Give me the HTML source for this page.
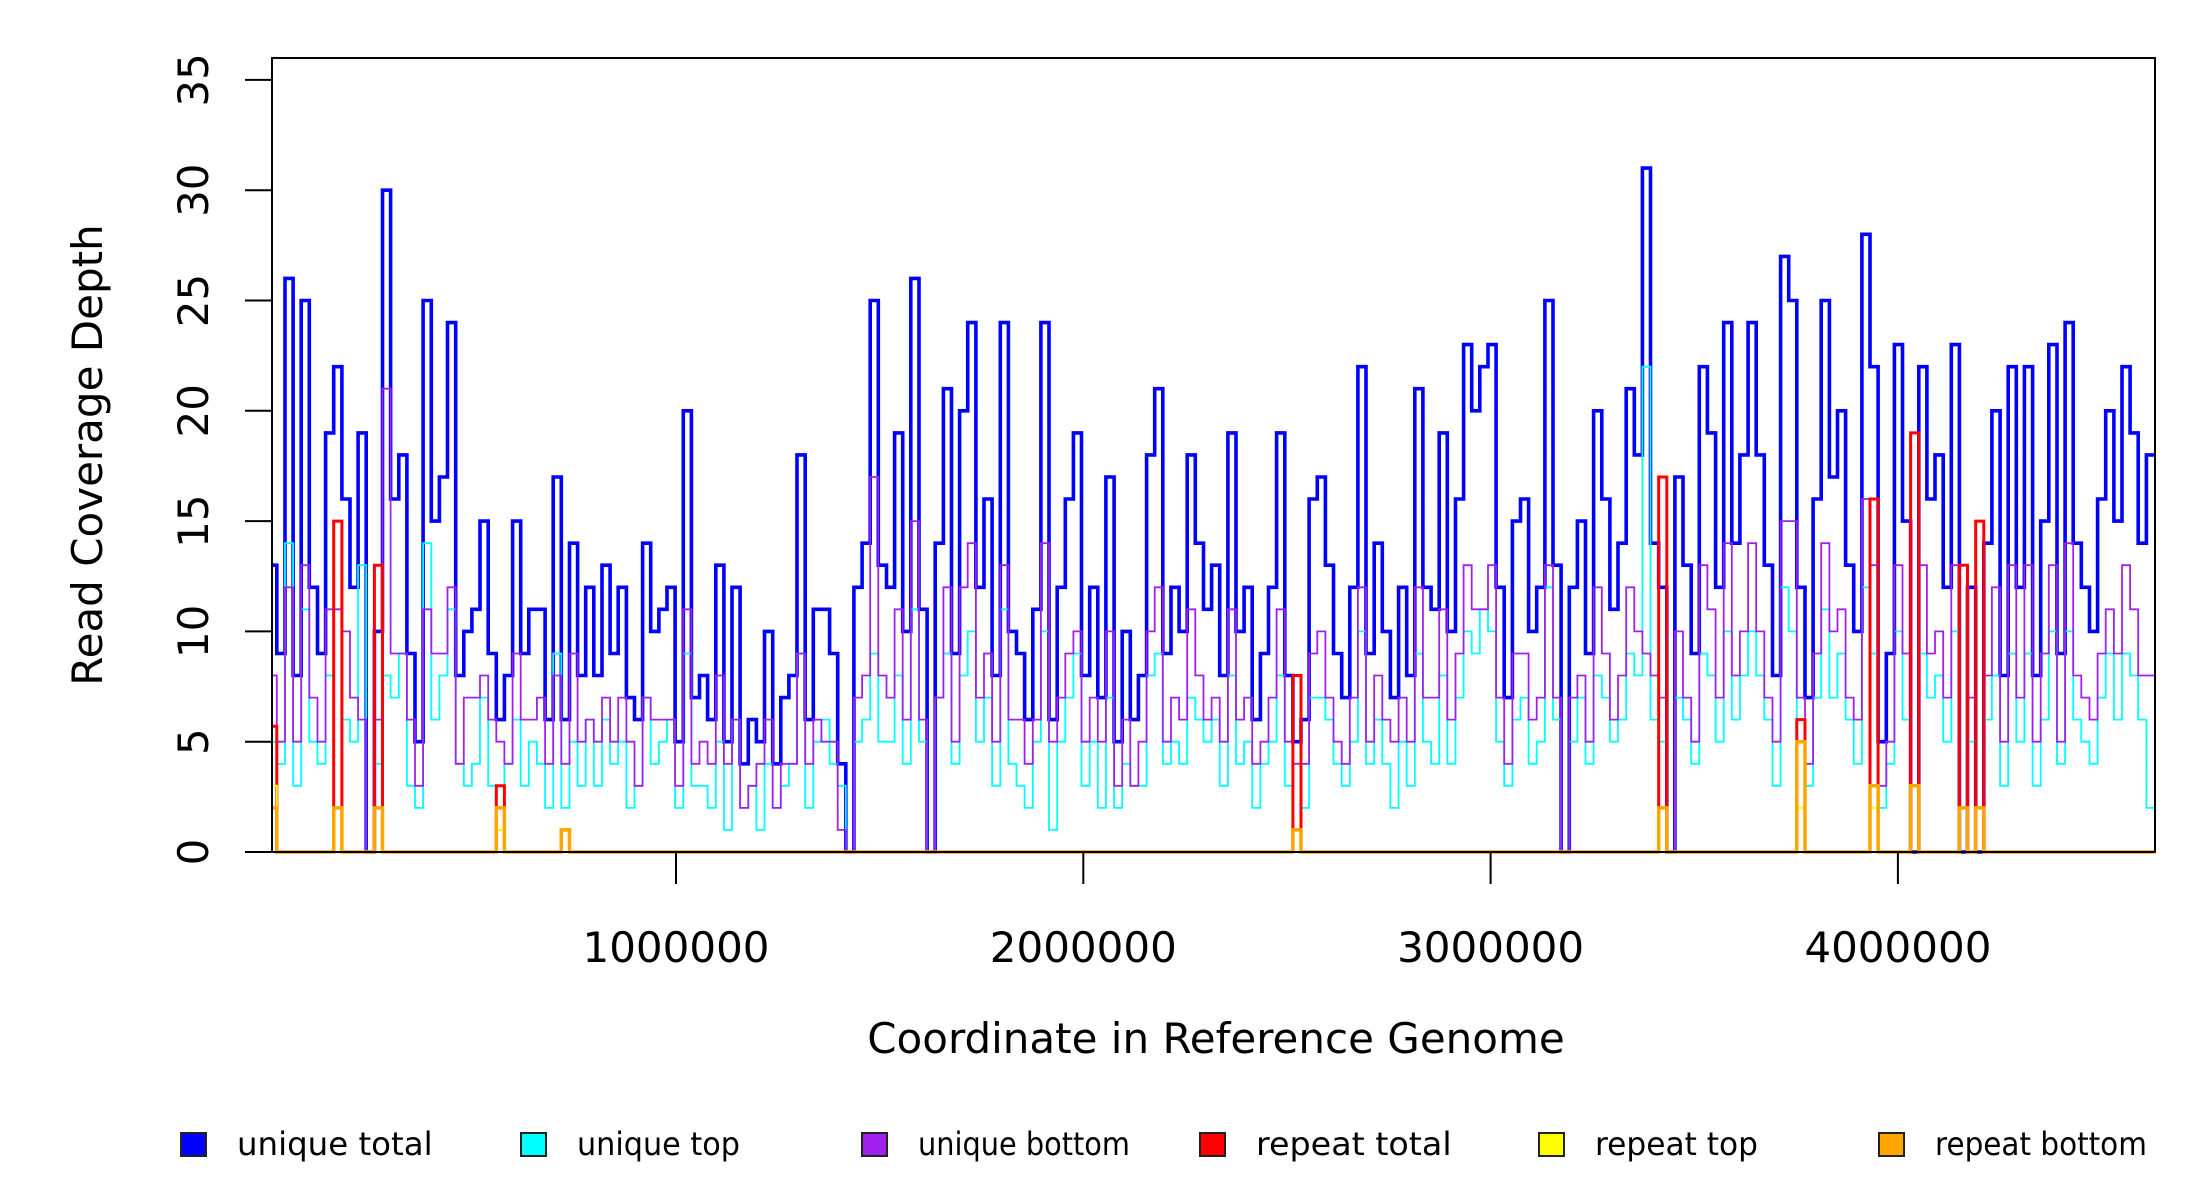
<!DOCTYPE html>
<html><head><meta charset="utf-8"><style>
html,body{margin:0;padding:0;background:#fff;}
svg{display:block;font-family:"DejaVu Sans","Liberation Sans",sans-serif;}
</style></head><body>
<svg id="chart" width="2200" height="1200" viewBox="0 0 2200 1200" xmlns="http://www.w3.org/2000/svg">
<rect x="0" y="0" width="2200" height="1200" fill="#fff"/>
<g id="series"></g>
<rect x="272" y="58" width="1883" height="794" fill="none" stroke="#000" stroke-width="2"/>
<g id="yaxis"></g>
<g id="xaxis"></g>
<text x="1216" y="1053" font-size="42" text-anchor="middle">Coordinate in Reference Genome</text>
<text transform="translate(102,455) rotate(-90)" font-size="42" text-anchor="middle">Read Coverage Depth</text>
<g id="legend"></g>
</svg>
<script>
const binSize = 20000;
const uniqueTotal = [13,9,26,8,25,12,9,19,22,16,12,19,0,10,30,16,18,9,5,25,15,17,24,8,10,11,15,9,6,8,15,9,11,11,6,17,6,14,8,12,8,13,9,12,7,6,14,10,11,12,5,20,7,8,6,13,5,12,4,6,5,10,4,7,8,18,6,11,11,9,4,0,12,14,25,13,12,19,10,26,11,0,14,21,9,20,24,12,16,8,24,10,9,6,11,24,6,12,16,19,8,12,7,17,5,10,6,8,18,21,9,12,10,18,14,11,13,8,19,10,12,6,9,12,19,8,5,6,16,17,13,9,7,12,22,9,14,10,7,12,8,21,12,11,19,10,16,23,20,22,23,12,7,15,16,10,12,25,13,0,12,15,9,20,16,11,14,21,18,31,14,12,0,17,13,9,22,19,12,24,14,18,24,18,13,8,27,25,12,7,16,25,17,20,13,10,28,22,5,9,23,15,0,22,16,18,12,23,0,12,0,14,20,8,22,12,22,8,15,23,9,24,14,12,10,16,20,15,22,19,14,18];
const uniqueTop = [5,4,14,3,11,5,4,8,11,6,5,13,0,4,8,7,9,3,2,14,6,8,11,4,3,4,7,3,1,4,6,3,5,4,2,9,2,5,3,6,3,6,4,5,2,3,7,4,5,6,2,9,3,3,2,5,1,6,2,3,1,4,2,3,4,9,2,5,6,4,3,0,5,6,9,5,5,8,4,11,5,0,7,9,4,8,10,5,7,3,11,4,3,2,5,10,1,5,7,9,3,5,2,7,2,4,3,3,8,9,4,5,4,7,6,5,6,3,8,4,5,2,4,5,8,3,1,2,7,7,6,4,3,5,10,4,6,4,2,5,3,9,5,4,8,4,7,10,9,11,10,5,3,6,7,4,5,12,6,0,5,7,4,8,7,5,6,9,8,22,6,5,0,7,6,4,9,8,5,10,6,8,10,8,6,3,12,10,5,3,7,11,7,9,6,4,12,9,2,4,10,6,0,9,7,8,5,10,0,5,0,6,8,3,9,5,9,3,6,10,4,10,6,5,4,7,9,6,9,8,6,2];
const uniqueBottom = [8,5,12,5,13,7,5,11,11,10,7,6,0,6,21,9,9,6,3,11,9,9,12,4,7,7,8,6,5,4,9,6,6,7,4,8,4,9,5,6,5,7,5,7,5,3,7,6,6,6,3,11,4,5,4,8,4,6,2,3,4,6,2,4,4,9,4,6,5,5,1,0,7,8,17,8,7,11,6,15,6,0,7,12,5,12,14,7,9,5,13,6,6,4,6,14,5,7,9,10,5,7,5,10,3,6,3,5,10,12,5,7,6,11,8,6,7,5,11,6,7,4,5,7,11,5,4,4,9,10,7,5,4,7,12,5,8,6,5,7,5,12,7,7,11,6,9,13,11,11,13,7,4,9,9,6,7,13,7,0,7,8,5,12,9,6,8,12,10,9,8,7,0,10,7,5,13,11,7,14,8,10,14,10,7,5,15,15,7,4,9,14,10,11,7,6,16,13,3,5,13,9,0,13,9,10,7,13,0,7,0,8,12,5,13,7,13,5,9,13,5,14,8,7,6,9,11,9,13,11,8,8];
const repeatBins = [0,8,13,28,36,126,171,188,197,202,208,210];
const repeatTotal = [5.7,15,13,3,1,8,17,6,16,19,13,15];
const repeatTop = [3,2,2,1,0,1,2,2,2,3,2,2];
const repeatBottom = [2,2,2,2,1,1,2,5,3,3,2,2];
const yTicks = [0,5,10,15,20,25,30,35];
const xTicks = [1000000,2000000,3000000,4000000];
const seriesNames = ["unique total","unique top","unique bottom","repeat total","repeat top","repeat bottom"];
const seriesColors = ["#0000ff","#00ffff","#a020f0","#ff0000","#ffff00","#ffa500"];

const NS = "http://www.w3.org/2000/svg";
const X0 = 268.7, XPER = 407.3/1000000, Y0 = 852, YPER = 22.06;
const nBins = uniqueTotal.length;
const xMax = 4630000;
function sx(v){ return X0 + v * XPER; }
function sy(v){ return Y0 - v * YPER; }
function mk(tag, attrs, parent){ const e = document.createElementNS(NS, tag); for (const k in attrs) e.setAttribute(k, attrs[k]); parent.appendChild(e); return e; }

function stepPath(vals){
  let d = "";
  const bw = xMax / vals.length;
  for (let i = 0; i < vals.length; i++){
    const xa = sx(i*bw), xb = sx((i+1)*bw), y = sy(vals[i]);
    d += (i === 0 ? "M" : "L") + xa.toFixed(1) + "," + y.toFixed(1) + "L" + xb.toFixed(1) + "," + y.toFixed(1);
  }
  return d;
}
function sparse(bins, vals){
  const a = new Array(nBins).fill(0);
  bins.forEach((b, j) => { a[b] = vals[j]; });
  return a;
}
const g = document.getElementById("series");
const clip = mk("clipPath", {id:"pc"}, g);
mk("rect", {x:272, y:58, width:1883, height:796}, clip);
const defs = [
  [uniqueTotal, seriesColors[0], 3.6, "unique-total-line"],
  [uniqueTop, seriesColors[1], 1.8, "unique-top-line"],
  [uniqueBottom, seriesColors[2], 1.8, "unique-bottom-line"],
  [sparse(repeatBins, repeatTotal), seriesColors[3], 3, "repeat-total-line"],
  [sparse(repeatBins, repeatTop), seriesColors[4], 2, "repeat-top-line"],
  [sparse(repeatBins, repeatBottom), seriesColors[5], 3.5, "repeat-bottom-line"]
];
defs.forEach(s => {
  const p = mk("path", {d: stepPath(s[0]), fill:"none", stroke:s[1], "stroke-width":s[2], "clip-path":"url(#pc)"}, g);
  
  
});

const ya = document.getElementById("yaxis");
const yl = mk("line", {x1:272, x2:272, y1:sy(yTicks[0]), y2:sy(yTicks[yTicks.length-1]), stroke:"#000", "stroke-width":2}, ya);


yTicks.forEach(t => {
  const tk = mk("line", {x1:245, x2:272, y1:sy(t), y2:sy(t), stroke:"#000", "stroke-width":2}, ya);
  
  
  const tx = mk("text", {transform:"translate(208," + sy(t) + ") rotate(-90)", "font-size":42, "text-anchor":"middle"}, ya);
  tx.textContent = String(t);
  
  
});
const xa = document.getElementById("xaxis");
const xl = mk("line", {x1:sx(xTicks[0]), x2:sx(xTicks[xTicks.length-1]), y1:852, y2:852, stroke:"#000", "stroke-width":2}, xa);


xTicks.forEach(t => {
  const tk = mk("line", {x1:sx(t), x2:sx(t), y1:852, y2:884, stroke:"#000", "stroke-width":2}, xa);
  
  
  const tx = mk("text", {x:sx(t), y:962, "font-size":42, "text-anchor":"middle"}, xa);
  tx.textContent = String(t);
  
  
});
const lg = document.getElementById("legend");
const legX = [181, 521, 862, 1200, 1539, 1879];
seriesNames.forEach((n, i) => {
  const r = mk("rect", {x:legX[i], y:1133, width:25, height:23, fill:seriesColors[i], stroke:"#222", "stroke-width":2}, lg);
  
  
  const tx = mk("text", {x:legX[i]+56, y:1155, "font-size":32, "textLength": n.length*16.3, "lengthAdjust":"spacingAndGlyphs"}, lg);
  tx.textContent = n;
  
  
});
</script>
</body></html>
